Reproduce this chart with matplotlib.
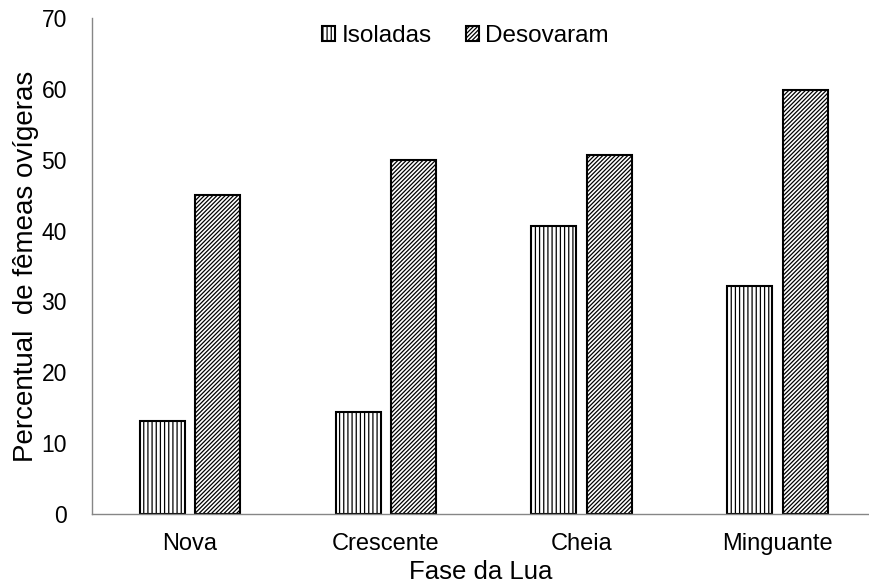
import numpy as np
import matplotlib
matplotlib.use('Agg')
import matplotlib.pyplot as plt

plt.rcParams['font.family'] = ['Liberation Sans', 'DejaVu Sans']
plt.rcParams['hatch.linewidth'] = 0.9

# data
fases = ['Nova', 'Crescente', 'Cheia', 'Minguante']
isoladas = [13.1, 14.4, 40.7, 32.2]
desovaram = [45.0, 50.0, 50.7, 59.9]

fig = plt.figure(figsize=(8.7, 5.86), dpi=100)
ax = fig.add_axes([92 / 870, 1 - 514 / 586, 778 / 870, 496 / 586])

x = np.arange(len(fases))
w = 0.23
ax.bar(x - 0.14, isoladas, w, facecolor='white', edgecolor='black',
       linewidth=1.5, hatch='||||', label='Isoladas')
ax.bar(x + 0.143, desovaram, w, facecolor='white', edgecolor='black',
       linewidth=1.5, hatch='////////', label='Desovaram')

ax.set_xlim(-0.5, 3.475)
ax.set_ylim(0, 70)
ax.set_yticks(range(0, 71, 10))
ax.set_xticks(x)
ax.set_xticklabels(fases)
ax.tick_params(axis='y', length=0, pad=18, labelsize=16.5)
ax.tick_params(axis='x', length=0, pad=14, labelsize=17)

for s in ['top', 'right']:
    ax.spines[s].set_visible(False)
for s in ['left', 'bottom']:
    ax.spines[s].set_color('#868686')
    ax.spines[s].set_linewidth(1.0)

ax.set_ylabel('Percentual  de fêmeas ovígeras', fontsize=20, labelpad=2)
ax.set_xlabel('Fase da Lua', fontsize=18.5, labelpad=3)

ax.legend(loc='upper center', bbox_to_anchor=(0.48, 1.03), ncol=2, frameon=False,
          fontsize=17.5, handlelength=0.55, handleheight=0.55, handletextpad=0.25,
          columnspacing=1.4)

fig.savefig('out.png', dpi=100)
